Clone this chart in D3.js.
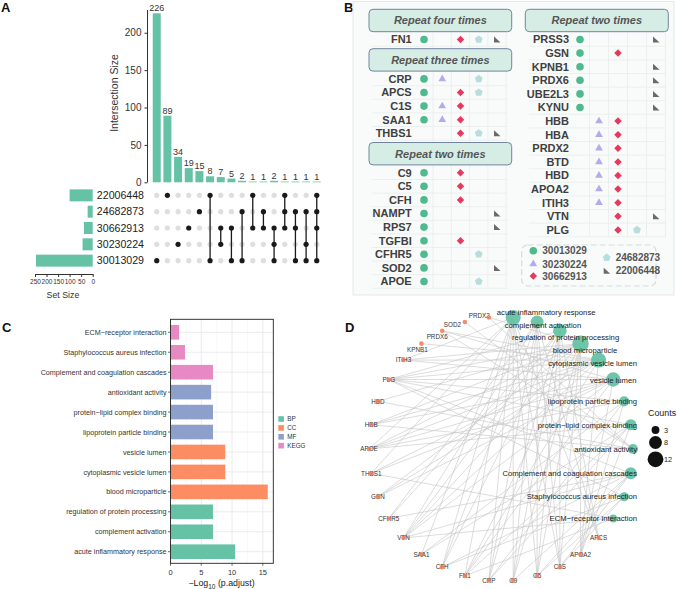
<!DOCTYPE html>
<html><head><meta charset="utf-8">
<script src="https://cdn.jsdelivr.net/npm/d3@7"></script>
<style>body{margin:0;background:#fff}svg{display:block}text{font-family:"Liberation Sans",Arial,sans-serif}</style>
</head><body><svg id="c" width="678" height="589"></svg>
<script>
// ---------------- DATA ----------------
// Panel A (UpSet)
const upsetSets = ["22006448","24682873","30662913","30230224","30013029"];
const upsetSetSizes = [100, 22, 38, 44, 246];
const intersectionSizes = [226, 89, 34, 19, 15, 8, 7, 5, 2, 1, 1, 2, 1, 1, 1, 1];
const intersectionMembers = [
  ["30013029"], ["22006448"], ["30230224"], ["30662913"], ["24682873"],
  ["22006448","30013029"], ["30662913","30230224"], ["30662913","30013029"], ["24682873","30013029"],
  ["22006448","30662913"], ["24682873","30662913"], ["30662913","30230224","30013029"],
  ["22006448","24682873","30662913"], ["24682873","30662913","30013029"],
  ["24682873","30230224","30013029"], ["22006448","24682873","30662913","30013029"]
];
const intersectionTicks = [0, 50, 100, 150, 200];
const setSizeTicks = [250, 200, 150, 100, 50, 0];

// Panel B (repeat table)
const tableSetOrder = ["30013029","30230224","30662913","24682873","22006448"];
const leftGroupTitles = ["Repeat four times","Repeat three times","Repeat two times"];
const leftGroupGenes = [["FN1"], ["CRP","APCS","C1S","SAA1","THBS1"],
  ["C9","C5","CFH","NAMPT","RPS7","TGFBI","CFHR5","SOD2","APOE"]];
const rightGroupTitles = ["Repeat two times"];
const rightGroupGenes = [["PRSS3","GSN","KPNB1","PRDX6","UBE2L3","KYNU","HBB","HBA","PRDX2","BTD","HBD","APOA2","ITIH3","VTN","PLG"]];
const geneSets = {
  FN1:["30013029","30662913","24682873","22006448"],
  CRP:["30013029","30230224","24682873"], APCS:["30013029","30662913","24682873"],
  C1S:["30013029","30230224","30662913"], SAA1:["30013029","30230224","30662913"],
  THBS1:["30662913","24682873","22006448"],
  C9:["30013029","30662913"], C5:["30013029","30662913"], CFH:["30013029","30662913"],
  NAMPT:["30013029","22006448"], RPS7:["30013029","22006448"], TGFBI:["30013029","30662913"],
  CFHR5:["30013029","24682873"], SOD2:["30013029","22006448"], APOE:["30013029","24682873"],
  PRSS3:["30013029","22006448"], GSN:["30013029","30662913"], KPNB1:["30013029","22006448"],
  PRDX6:["30013029","22006448"], UBE2L3:["30013029","22006448"], KYNU:["30013029","22006448"],
  HBB:["30230224","30662913"], HBA:["30230224","30662913"], PRDX2:["30230224","30662913"],
  BTD:["30230224","30662913"], HBD:["30230224","30662913"], APOA2:["30230224","30662913"],
  ITIH3:["30230224","30662913"], VTN:["30662913","22006448"], PLG:["30662913","24682873"]
};

// Panel C (enrichment bars), bottom to top
const termNames = ["acute inflammatory response","complement activation","regulation of protein processing",
  "blood microparticle","cytoplasmic vesicle lumen","vesicle lumen",
  "lipoprotein particle binding","protein\u2212lipid complex binding","antioxidant activity",
  "Complement and coagulation cascades","Staphylococcus aureus infection","ECM\u2212receptor interaction"];
const termCategory = ["BP","BP","BP","CC","CC","CC","MF","MF","MF","KEGG","KEGG","KEGG"];
const termLogP = [10.5, 6.9, 6.9, 15.8, 8.9, 8.9, 6.9, 6.9, 6.6, 6.9, 2.35, 1.4];
const categoryNames = ["BP","CC","MF","KEGG"];
const categoryColors = ["#66c2a5","#fc8d62","#8da0cb","#e78ac3"];
const xTicksC = [0, 5, 10, 15];

// Panel D (gene-term network)
const networkGenes = ["APCS","APOA2","C1S","C5","C9","CRP","FN1","CFH","SAA1","VTN","CFHR5","GSN",
  "THBS1","APOE","HBB","HBD","PLG","ITIH3","KPNB1","PRDX6","SOD2","PRDX2"];
const termGenes = [
  ["APCS","C1S","C5","C9","CFH","CRP","FN1","SAA1","THBS1","ITIH3","APOE"],
  ["APCS","C1S","C5","C9","CFH","CRP","CFHR5","VTN"],
  ["APCS","C1S","C5","C9","CFH","CRP","CFHR5","VTN","PLG"],
  ["HBB","HBD","PRDX2","APOE","APOA2","C5","C9","C1S","FN1","PLG","VTN","ITIH3","GSN"],
  ["FN1","GSN","THBS1","VTN","PLG","APOE","APOA2","ITIH3","PRDX6","KPNB1","HBB"],
  ["FN1","GSN","THBS1","VTN","PLG","APOE","APOA2","ITIH3","PRDX6","HBB"],
  ["APOE","APOA2","PLG","SAA1","CRP"],
  ["APOE","APOA2","PLG","SAA1","CRP","FN1"],
  ["PRDX2","PRDX6","SOD2","HBB","HBD"],
  ["C1S","C5","C9","CFH","PLG","VTN","CFHR5"],
  ["C1S","C5","CFH","PLG"],
  ["FN1","THBS1","VTN"]
];
const countLegend = [3, 8, 12];

// ---------------- DRAW ----------------
const svg = d3.select("#c");
const panelLetter = (t,x,y)=>svg.append("text").attr("x",x).attr("y",y).text(t)
  .attr("font-size",13).attr("font-weight","bold").attr("fill","#111");
panelLetter("A",1,12); panelLetter("B",344,12); panelLetter("C",2,332); panelLetter("D",345,332);

// ===== Panel A =====
(function(){
  const g = svg.append("g");
  const green = "#66c2a5";
  const yI = d3.scaleLinear().domain([0,226]).range([182.3,13.3]);
  const xI = d3.scaleBand().domain(d3.range(intersectionSizes.length)).range([151.4,322.1])
    .paddingInner(0.25).paddingOuter(0.125);
  const rowY = d3.scaleBand().domain(upsetSets).range([187.2,268.8]);
  const cy = s => rowY(s) + rowY.bandwidth()/2;
  const cxI = i => xI(i) + xI.bandwidth()/2;

  g.selectAll(".ib").data(intersectionSizes).join("rect")
    .attr("x",(d,i)=>xI(i)).attr("width",xI.bandwidth())
    .attr("y",d=>yI(d)).attr("height",d=>yI(0)-yI(d)).attr("fill",green);
  g.selectAll(".il").data(intersectionSizes).join("text")
    .attr("x",(d,i)=>cxI(i)).attr("y",d=>yI(d)-2).attr("text-anchor","middle")
    .attr("font-size",9).attr("fill","#333").text(d=>d);
  const ax = g.append("g").attr("transform","translate(147.5,0)")
    .call(d3.axisLeft(yI).tickValues(intersectionTicks).tickSize(3).tickSizeOuter(0));
  ax.select(".domain").attr("d","M0,182.3V10").attr("stroke","#333");
  ax.selectAll(".tick line").attr("stroke","#333");
  ax.selectAll("text").attr("font-size",10).attr("fill","#333").attr("font-family","Liberation Sans, Arial");
  g.append("text").attr("transform","translate(118,93) rotate(-90)").attr("text-anchor","middle")
    .attr("font-size",10.5).attr("fill","#333").text("Intersection Size");

  // matrix
  intersectionMembers.forEach((mem,i)=>{
    upsetSets.forEach(s=>{
      g.append("circle").attr("cx",cxI(i)).attr("cy",cy(s)).attr("r",2.6)
        .attr("fill", mem.includes(s)?"#1a1a1a":"#dedede");
    });
    if(mem.length>1){
      const ys = mem.map(cy);
      g.append("line").attr("x1",cxI(i)).attr("x2",cxI(i))
        .attr("y1",d3.min(ys)).attr("y2",d3.max(ys)).attr("stroke","#1a1a1a").attr("stroke-width",1.3);
    }
  });
  // set names
  g.selectAll(".sn").data(upsetSets).join("text")
    .attr("x",144).attr("y",d=>cy(d)).attr("dy","0.36em").attr("text-anchor","end")
    .attr("font-size",10.6).attr("fill","#222").text(d=>d);
  // set size bars
  const xS = d3.scaleLinear().domain([0,250]).range([92.7,35]);
  g.selectAll(".sb").data(upsetSets).join("rect")
    .attr("x",(d,i)=>xS(upsetSetSizes[i])).attr("width",(d,i)=>xS(0)-xS(upsetSetSizes[i]))
    .attr("y",d=>cy(d)-6).attr("height",12).attr("fill",green);
  const ax2 = g.append("g").attr("transform","translate(0,274)")
    .call(d3.axisBottom(xS).tickValues(setSizeTicks).tickSize(3).tickSizeOuter(0));
  ax2.select(".domain").attr("stroke","#333");
  ax2.selectAll(".tick line").attr("stroke","#333");
  ax2.selectAll("text").attr("font-size",6.5).attr("fill","#333").attr("dy","0.6em").attr("font-family","Liberation Sans, Arial");
  g.append("text").attr("x",63).attr("y",298).attr("text-anchor","middle")
    .attr("font-size",8.8).attr("fill","#333").text("Set Size");
})();

// ===== Panel B =====
(function(){
  const g = svg.append("g");
  g.append("rect").attr("x",353).attr("y",1.5).attr("width",321).attr("height",293.5)
    .attr("fill","#f8fbfa").attr("stroke","#e2e9e6").attr("stroke-width",1);
  const gridG = g.append("g"), markG = g.append("g"), hdrG = g.append("g");
  const colors = {"30013029":"#4fba8e","30230224":"#b4aaee","30662913":"#e8385e","24682873":"#b7dddd","22006448":"#6a6a6a"};
  const pent = d3.range(5).map(k=>{const a=-Math.PI/2+k*2*Math.PI/5;return [4.1*Math.cos(a),4.1*Math.sin(a)];});
  const shapes = {
    "30013029": g=>g.append("circle").attr("r",3.8),
    "30230224": g=>g.append("path").attr("d",d3.symbol(d3.symbolTriangle,26)()),
    "30662913": g=>g.append("path").attr("d",d3.symbol(d3.symbolSquare,28)()).attr("transform","rotate(45)"),
    "24682873": g=>g.append("path").attr("d","M"+pent.join("L")+"Z"),
    "22006448": g=>g.append("path").attr("d","M-3,-3L-3,3L3.5,3Z")
  };
  const step = 13.6, hdrH = 22.4, gapAfter = 7.8, gapBefore = 9.2;
  function column(titles, genesList, boxX0, boxX1, nameX, colX0, colX1){
    const xC = d3.scalePoint().domain(tableSetOrder).range([colX0,colX1]);
    let y = 9.3;
    const rows = [];
    titles.forEach((t,gi)=>{
      const hg = hdrG.append("g");
      hg.append("rect").attr("x",boxX0).attr("y",y).attr("width",boxX1-boxX0).attr("height",hdrH)
        .attr("rx",4).attr("fill","#d5ede5").attr("stroke","#7284a0").attr("stroke-width",1);
      hg.append("text").attr("x",(boxX0+boxX1)/2).attr("y",y+hdrH/2).attr("dy","0.36em")
        .attr("text-anchor","middle").attr("font-size",11).attr("font-weight","bold")
        .attr("font-style","italic").attr("fill","#555").text(t);
      y += hdrH + gapAfter;
      genesList[gi].forEach((gene,k)=>{ rows.push({gene, y}); y += step; });
      y = y - step + gapBefore;
    });
    // grid
    const gx0 = nameX - 40, gx1 = colX1 + 10;
    rows.forEach(r=>{
      gridG.append("line").attr("x1",gx0).attr("x2",gx1).attr("y1",r.y+step/2).attr("y2",r.y+step/2)
        .attr("stroke","#e7edeb").attr("stroke-width",0.8);
    });
    const sp = xC.step();
    tableSetOrder.forEach(s=>{
      gridG.append("line").attr("x1",xC(s)+sp/2).attr("x2",xC(s)+sp/2)
        .attr("y1",rows[0].y-step/2).attr("y2",rows[rows.length-1].y+step/2)
        .attr("stroke","#e7edeb").attr("stroke-width",0.8);
    });
    rows.forEach(r=>{
      markG.append("text").attr("x",nameX).attr("y",r.y).attr("dy","0.36em").attr("text-anchor","end")
        .attr("font-size",11).attr("font-weight","bold").attr("fill","#404040").text(r.gene);
      geneSets[r.gene].forEach(s=>{
        const sg = markG.append("g").attr("transform",`translate(${xC(s)},${r.y})`).attr("fill",colors[s]);
        shapes[s](sg);
      });
    });
  }
  column(leftGroupTitles, leftGroupGenes, 369, 511.7, 411.7, 424, 497);
  column(rightGroupTitles, rightGroupGenes, 525.3, 668.3, 569, 580, 656);
  // legend
  hdrG.append("rect").attr("x",521.7).attr("y",245).attr("width",134.3).attr("height",41).attr("rx",6)
    .attr("fill","#f8fbfa").attr("stroke","#d2dedb").attr("stroke-width",1.2).attr("stroke-dasharray","6,3");
  const legPos = [[533.3,250.7],[533.3,264],[533.3,276],[606.7,257.7],[606.7,270.7]];
  tableSetOrder.forEach((s,i)=>{
    const sg = hdrG.append("g").attr("transform",`translate(${legPos[i][0]},${legPos[i][1]})`).attr("fill",colors[s]);
    shapes[s](sg);
    hdrG.append("text").attr("x",legPos[i][0]+9).attr("y",legPos[i][1]).attr("dy","0.36em")
      .attr("font-size",10).attr("font-weight","bold").attr("fill","#555").text(s);
  });
})();

// ===== Panel C =====
(function(){
  const g = svg.append("g");
  const x0=170.5, x1=273.3, y0=319.3, y1=563.3;
  const x = d3.scaleLinear().domain([0,16.7]).range([x0,x1]);
  const y = d3.scalePoint().domain(termNames).range([551.7,332.3]);
  const col = d3.scaleOrdinal().domain(categoryNames).range(categoryColors);
  [2.5,7.5,12.5].forEach(v=>g.append("line").attr("x1",x(v)).attr("x2",x(v)).attr("y1",y0).attr("y2",y1).attr("stroke","#f2f2f2").attr("stroke-width",0.5));
  xTicksC.forEach(v=>g.append("line").attr("x1",x(v)).attr("x2",x(v)).attr("y1",y0).attr("y2",y1).attr("stroke","#e6e6e6").attr("stroke-width",0.8));
  termNames.forEach(t=>g.append("line").attr("x1",x0).attr("x2",x1).attr("y1",y(t)).attr("y2",y(t)).attr("stroke","#e6e6e6").attr("stroke-width",0.8));
  g.selectAll(".bar").data(termNames).join("rect")
    .attr("x",x(0)).attr("y",d=>y(d)-7.3).attr("height",14.6)
    .attr("width",(d,i)=>x(termLogP[i])-x(0)).attr("fill",(d,i)=>col(termCategory[i]));
  g.append("rect").attr("x",x0).attr("y",y0).attr("width",x1-x0).attr("height",y1-y0)
    .attr("fill","none").attr("stroke","#222").attr("stroke-width",0.9);
  termNames.forEach(t=>{
    g.append("line").attr("x1",x0-2.5).attr("x2",x0).attr("y1",y(t)).attr("y2",y(t)).attr("stroke","#333").attr("stroke-width",0.7);
    g.append("text").attr("x",x0-4).attr("y",y(t)).attr("dy","0.36em").attr("text-anchor","end")
      .attr("font-size",7.2).attr("fill","#333").text(t);
  });
  xTicksC.forEach(v=>{
    g.append("line").attr("x1",x(v)).attr("x2",x(v)).attr("y1",y1).attr("y2",y1+2.5).attr("stroke","#333").attr("stroke-width",0.7);
    g.append("text").attr("x",x(v)).attr("y",y1+8.5).attr("dy","0.36em").attr("text-anchor","middle")
      .attr("font-size",7.5).attr("fill","#333").text(v);
  });
  const tt = g.append("text").attr("x",221.5).attr("y",586).attr("text-anchor","middle").attr("font-size",8.8).attr("fill","#222");
  tt.append("tspan").text("\u2212Log");
  tt.append("tspan").attr("font-size",6.5).attr("dy",2.5).text("10");
  tt.append("tspan").attr("dy",-2.5).text(" (p.adjust)");
  categoryNames.forEach((c,i)=>{
    const yy = 419 + i*8.9;
    g.append("rect").attr("x",278.3).attr("y",yy-2.8).attr("width",5.6).attr("height",5.6).attr("fill",col(c));
    g.append("text").attr("x",287.3).attr("y",yy).attr("dy","0.36em").attr("font-size",6.3).attr("fill","#333").text(c);
  });
})();

// ===== Panel D =====
(function(){
  const g = svg.append("g");
  const cx=501, cy=449, R=132;
  const nodes = termNames.concat(networkGenes);
  const stepA = 2*Math.PI/nodes.length;
  const pos = {};
  nodes.forEach((n,i)=>{const th=Math.PI/2-(i+0.5)*stepA; pos[n]={x:cx+R*Math.cos(th), y:cy-R*Math.sin(th)};});
  const size = d3.scaleSqrt().domain([0,13]).range([0,8.2]);
  const eg = g.append("g");
  termNames.forEach((t,i)=>termGenes[i].forEach(gn=>{
    eg.append("line").attr("x1",pos[gn].x).attr("y1",pos[gn].y).attr("x2",pos[t].x).attr("y2",pos[t].y)
      .attr("stroke","#c4c4c4").attr("stroke-opacity",0.75).attr("stroke-width",0.8);
  }));
  termNames.forEach((t,i)=>{
    g.append("circle").attr("cx",pos[t].x).attr("cy",pos[t].y).attr("r",size(termGenes[i].length))
      .attr("fill","#66c2a5").attr("fill-opacity",0.95);
  });
  const geneNudge = {PRDX2:[-9.5,-1.7], SOD2:[-12.5,2.3], PRDX6:[-5,5.5], KPNB1:[-4,6]};
  networkGenes.forEach(gn=>{
    const n = geneNudge[gn]||[0,0];
    g.append("text").attr("x",pos[gn].x+n[0]).attr("y",pos[gn].y+n[1]).attr("dy","0.36em")
      .attr("text-anchor","middle").attr("font-size",6.3).attr("fill","#333").text(gn);
  });
  networkGenes.forEach(gn=>{
    g.append("circle").attr("cx",pos[gn].x).attr("cy",pos[gn].y).attr("r",2.3)
      .attr("fill","#ee7b58").attr("fill-opacity",0.85);
  });
  const termNudge = {"acute inflammatory response":[33,-5],"complement activation":[5.8,3],
    "regulation of protein processing":[5.7,6],"blood microparticle":[4.5,6.7],
    "cytoplasmic vesicle lumen":[0,2.7],"vesicle lumen":[0,0.7]};
  termNames.forEach(t=>{
    const n = termNudge[t]||[0,0];
    const tx = g.append("text").attr("y",pos[t].y+n[1]).attr("dy","0.36em")
      .attr("font-size",7.7).attr("fill","#222").text(t);
    const w = tx.node().getComputedTextLength();
    let left = pos[t].x + n[0] - w/2;
    if(left + w > 637) left = 637 - w;
    tx.attr("x",left);
  });
  g.append("text").attr("x",648).attr("y",413).attr("dy","0.36em").attr("font-size",8.9).attr("fill","#222").text("Counts");
  const ly = [430, 442.5, 459.3];
  countLegend.forEach((c,i)=>{
    g.append("circle").attr("cx",655.5).attr("cy",ly[i]).attr("r",size(c)).attr("fill","#111");
    g.append("text").attr("x",664).attr("y",ly[i]).attr("dy","0.36em").attr("font-size",7.3).attr("fill","#222").text(c);
  });
})();
</script></body></html>
